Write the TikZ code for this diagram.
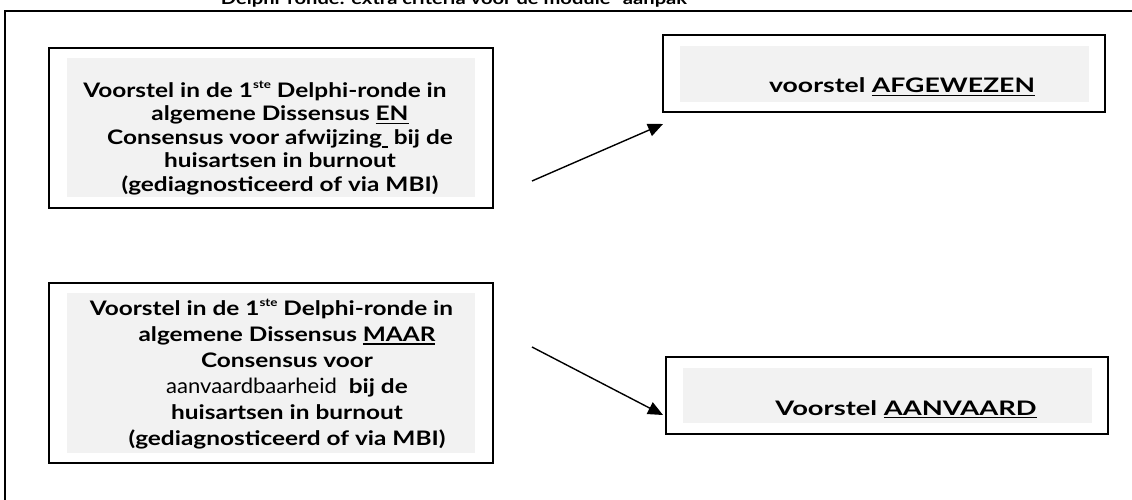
\documentclass[tikz,border=0pt]{standalone}
\usepackage{graphicx}
\usepackage{fontspec}
\setmainfont{Lato}[FakeStretch=1.22]
\newfontfamily\plainfont{Lato}[FakeStretch=1.05]
\usetikzlibrary{arrows.meta}
\newcommand{\supste}{\raisebox{0.45em}{\fontsize{11pt}{11pt}\selectfont ste}}
% underline drawn as a firm rule under the word
\newcommand{\ulword}[1]{\setbox0\hbox{#1}\rlap{\rule[-3.2pt]{\wd0}{1.6pt}}\box0}
\begin{document}
\begin{tikzpicture}[x=1pt,y=-1pt,
  holder/.style={inner sep=0pt,draw=none},
  boxtext/.style={font=\bfseries\fontsize{20pt}{23.4pt}\selectfont,align=center,inner sep=0pt},
  conn/.style={line width=1.4pt,-{Triangle[length=15pt,width=13pt]}}]
\useasboundingbox (0,0) rectangle (1132,500);
\clip (0,0) rectangle (1132,500);
\fill[white] (0,0) rectangle (1132,500);

% heading, partly above the page edge
\node[font=\bfseries\fontsize{16.5pt}{18pt}\selectfont,anchor=base,inner sep=0pt] (title) at (454,5)
  {Delphi-ronde: extra criteria voor de module” aanpak};

% enclosing frame
\draw[line width=2pt] (1140,11) -- (5,11) -- (5,510);

% proposal boxes on the left
\fill[black!5] (67,58) rectangle (475,197);
\node[holder,minimum width=444pt,minimum height=160pt] (p1) at (271,128) {};
\draw[line width=2pt] (49,48) rectangle (493,208);
\node[boxtext] (t1) at (280,138) {%
  Voorstel in de 1\supste{} Delphi-ronde in\hspace*{30pt}\\
  algemene Dissensus \ulword{EN}\\
  Consensus voor afwijzing\ulword{\hspace{0.3em}}\ bij de\\
  huisartsen in burnout\\
  (gediagnosticeerd of via MBI)};

\fill[black!5] (67,293) rectangle (475,453);
\node[holder,minimum width=444pt,minimum height=180pt] (p2) at (271,373) {};
\draw[line width=2pt] (49,283) rectangle (493,463);
\node[boxtext,font=\bfseries\fontsize{20pt}{26pt}\selectfont] (t2) at (287,374) {%
  Voorstel in de 1\supste{} Delphi-ronde in\hspace*{31pt}\\
  algemene Dissensus \ulword{MAAR}\\
  Consensus voor\\
  {\plainfont\mdseries\fontsize{21pt}{26pt}\selectfont aanvaardbaarheid}\ \ bij de\hspace*{56pt}\\
  huisartsen in burnout\\
  (gediagnosticeerd of via MBI)};

% outcome boxes on the right
\fill[black!5] (680,46) rectangle (1089,102);
\node[holder,minimum width=442pt,minimum height=77pt] (r1) at (884,73.5) {};
\draw[line width=2pt] (663,35) rectangle (1105,112);
\node[boxtext,anchor=base] (t3) at (902,93) {\scalebox{1.09}[1]{voorstel \ulword{AFGEWEZEN}}};

\fill[black!5] (683,368) rectangle (1092,423);
\node[holder,minimum width=442pt,minimum height=77pt] (r2) at (887,395.5) {};
\draw[line width=2pt] (666,357) rectangle (1108,434);
\node[boxtext,anchor=base] (t4) at (906,415) {\scalebox{1.12}[1]{Voorstel \ulword{AANVAARD}}};

% connectors
\coordinate (s1) at (532,181);
\coordinate (e1) at (663,124);
\coordinate (s2) at (532,347);
\coordinate (e2) at (663,415);
\draw[conn] (s1) -- (e1);
\draw[conn] (s2) -- (e2);
\end{tikzpicture}
\end{document}
